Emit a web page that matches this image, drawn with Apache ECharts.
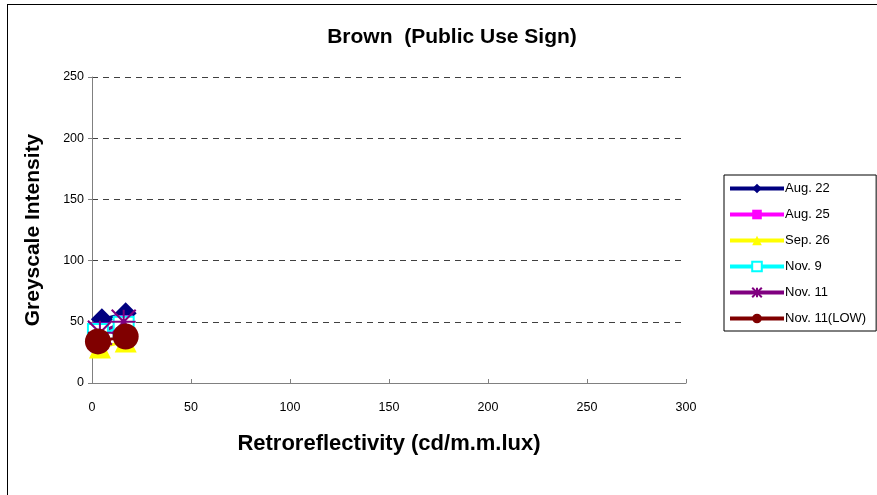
<!doctype html>
<html lang="en">
	<head>
		<meta charset="UTF-8">
		<title>Brown (Public Use Sign)</title>
		<script src="https://cdn.jsdelivr.net/npm/echarts@6/dist/echarts.min.js"></script>
		<style>
			html, body { margin: 0; padding: 0; background: #fff; }
			#frame { position: absolute; left: 7px; top: 4px; width: 880px; height: 500px; border: 1px solid #000; box-sizing: border-box; }
		</style>
	</head>
	<body>
		<div id="frame"></div>
		<div id="chart" style="position: absolute; left: 0; top: 0; width: 877px; height: 495px;"></div>
		<script>
			// x = retroreflectivity, y = greyscale intensity
			let seriesNames = ['Aug. 22', 'Aug. 25', 'Sep. 26', 'Nov. 9', 'Nov. 11', 'Nov. 11(LOW)']
			let aug22 = [[5, 52], [17, 57]]
			let aug25 = [[4, 42], [16, 48]]
			let sep26 = [[4, 29], [17, 34]]
			let nov9 = [[3, 40], [16, 46]]
			let nov11 = [[4, 41], [16, 50]]
			let nov11Low = [[3, 34], [17, 38]]
			let xTicks = [0, 50, 100, 150, 200, 250, 300]
			let yTicks = [0, 50, 100, 150, 200, 250]

			let colors = ['#000080', '#ff00ff', '#ffff00', '#00ffff', '#800080', '#800000']
			let symbols = ['diamond', 'rect', 'triangle', 'rect',
				'path://M0,0L10,10M10,0L0,10M5,0L5,10M0,5L10,5', 'circle']
			let sizes = [22, 18, 22, 20, 24, 26]
			let datasets = [aug22, aug25, sep26, nov9, nov11, nov11Low]

			let series = datasets.map((d, i) => ({
				name: seriesNames[i],
				type: 'line',
				data: d,
				symbol: symbols[i],
				symbolSize: sizes[i],
				showAllSymbol: true,
				lineStyle: { color: colors[i], width: 3 },
				itemStyle: {
					color: i === 3 ? '#fff' : colors[i],
					borderColor: colors[i],
					borderWidth: i === 3 || i === 4 ? 2 : 0
				},
				emphasis: { disabled: true },
				animation: false
			}))

			let mCharts = echarts.init(document.getElementById('chart'))
			let option = {
				animation: false,
				title: {
					text: 'Brown  (Public Use Sign)',
					left: 447,
					top: 22,
					textAlign: 'center',
					textStyle: { fontFamily: 'Liberation Sans', fontSize: 21, fontWeight: 'bold', color: '#000' }
				},
				grid: { left: 92, right: 191, top: 77, bottom: 112 },
				legend: {
					orient: 'vertical',
					left: 724,
					top: 175,
					width: 152,
					padding: [7, 10, 6, 4],
					itemWidth: 54,
					itemHeight: 12,
					itemGap: 13,
					borderColor: '#000',
					borderWidth: 1,
					itemStyle: { borderWidth: 'inherit' },
					lineStyle: { width: 4 },
					textStyle: { fontFamily: 'Liberation Sans', fontSize: 13, color: '#000', padding: [0, 0, 0, -4] },
					data: seriesNames
				},
				xAxis: {
					type: 'value',
					min: 0,
					max: 300,
					interval: 50,
					name: 'Retroreflectivity (cd/m.m.lux)',
					nameLocation: 'middle',
					nameGap: 50,
					nameTextStyle: { fontFamily: 'Liberation Sans', fontSize: 22, fontWeight: 'bold', color: '#000' },
					axisLine: { lineStyle: { color: '#808080', width: 1 } },
					axisTick: { inside: true, length: 4, lineStyle: { color: '#808080' } },
					axisLabel: {
						fontFamily: 'Liberation Sans', fontSize: 12.5, color: '#000', margin: 18,
						formatter: (v) => xTicks.includes(v) ? String(v) : ''
					},
					splitLine: { show: false }
				},
				yAxis: {
					type: 'value',
					min: 0,
					max: 250,
					interval: 50,
					name: 'Greyscale Intensity',
					nameLocation: 'middle',
					nameGap: 48,
					nameTextStyle: { fontFamily: 'Liberation Sans', fontSize: 21, fontWeight: 'bold', color: '#000' },
					axisLine: { show: true, lineStyle: { color: '#808080', width: 1 } },
					axisTick: { show: true, length: 4, lineStyle: { color: '#808080' } },
					axisLabel: {
						fontFamily: 'Liberation Sans', fontSize: 12.5, color: '#000', margin: 8,
						formatter: (v) => yTicks.includes(v) ? String(v) : ''
					},
					splitLine: { show: true, lineStyle: { color: '#404040', type: [6, 5], width: 1 } }
				},
				series: series
			}
			mCharts.setOption(option)
		</script>
	</body>
</html>
